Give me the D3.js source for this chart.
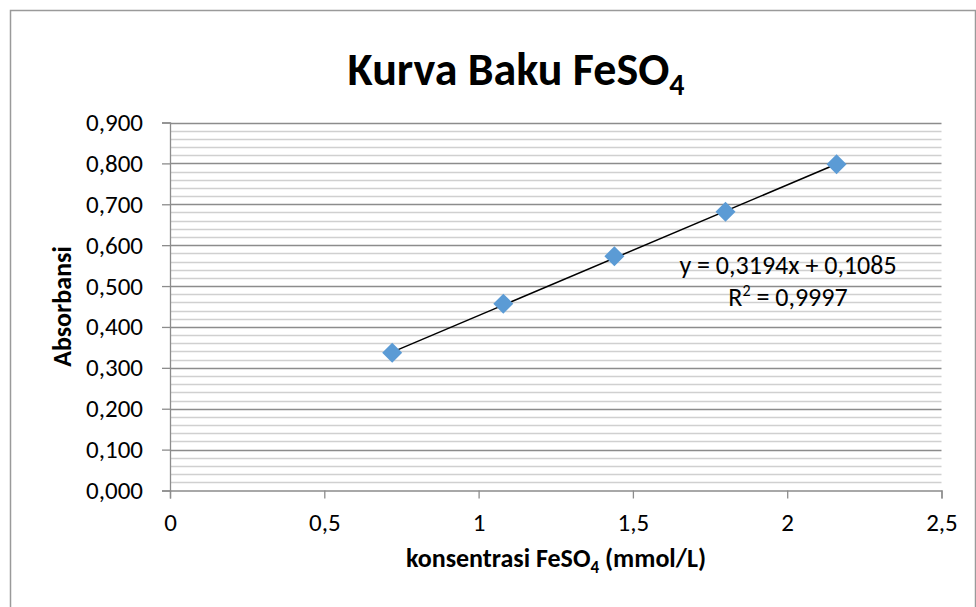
<!DOCTYPE html>
<html>
<head>
<meta charset="utf-8">
<script src="https://cdn.jsdelivr.net/npm/d3@7"></script>
<style>
  html, body { margin: 0; padding: 0; background: #fff; }
  svg { display: block; }
  text { font-family: Carlito, Calibri, Lato, "Open Sans", sans-serif; fill: #000; }
</style>
</head>
<body>
<svg id="chart" width="976" height="607"></svg>
<script>
// ---- data ----
const concentrations = [0.72, 1.08, 1.44, 1.80, 2.16];
const absorbances = [0.337, 0.457, 0.573, 0.682, 0.798];
const slope = 0.3194;
const intercept = 0.1085;
const rSquared = "0,9997";
const xTicks = [0, 0.5, 1, 1.5, 2, 2.5];
const yTicks = [0, 0.1, 0.2, 0.3, 0.4, 0.5, 0.6, 0.7, 0.8, 0.9];
const titleText = "Kurva Baku FeSO";
const xTitleText = "konsentrasi FeSO";
const yTitleText = "Absorbansi";

const svg = d3.select("#chart");

// outer chart border
svg.append("rect").attr("x", 10.5).attr("y", 10.5).attr("width", 965).attr("height", 620)
  .attr("fill", "none").attr("stroke", "#9a9a9a").attr("stroke-width", 1.5);

const x = d3.scaleLinear().domain([0, 2.5]).range([170, 941.5]);
const y = d3.scaleLinear().domain([0, 0.9]).range([490.5, 122.5]);

const fmtComma = (d, dec) => d.toFixed(dec).replace(".", ",");

// minor gridlines every 0.02
const minor = d3.range(0, 0.9001, 0.02).filter(v => Math.abs(Math.round(v * 10) / 10 - v) > 1e-6);
svg.append("g").selectAll("line").data(minor).join("line")
  .attr("x1", x(0)).attr("x2", x(2.5))
  .attr("y1", d => Math.round(y(d)) + 0.5).attr("y2", d => Math.round(y(d)) + 0.5)
  .attr("stroke", "#d0d0d0").attr("stroke-width", 1.3);

// major gridlines
svg.append("g").selectAll("line").data(yTicks.filter(d => d > 0)).join("line")
  .attr("x1", x(0)).attr("x2", x(2.5))
  .attr("y1", d => Math.round(y(d)) + 0.5).attr("y2", d => Math.round(y(d)) + 0.5)
  .attr("stroke", "#8c8c8c").attr("stroke-width", 1.3);

// y axis
const yAxis = d3.axisLeft(y).tickValues(yTicks).tickSize(8).tickPadding(19)
  .tickFormat(d => fmtComma(d, 3));
const gy = svg.append("g").attr("transform", `translate(${x(0)},0)`).call(yAxis);
gy.select(".domain").attr("stroke", "#8c8c8c").attr("stroke-width", 1.3);
gy.selectAll(".tick line").attr("stroke", "#8c8c8c").attr("stroke-width", 1.3);
gy.selectAll(".tick text").attr("font-size", 25).attr("font-family", null).attr("fill", "#000");

// x axis
const xAxis = d3.axisBottom(x).tickValues(xTicks).tickSize(8).tickPadding(15)
  .tickFormat(d => fmtComma(d, d % 1 === 0 ? 0 : 1));
const gx = svg.append("g").attr("transform", `translate(0,${y(0)})`).call(xAxis);
gx.select(".domain").attr("stroke", "#8c8c8c").attr("stroke-width", 1.3);
gx.selectAll(".tick line").attr("stroke", "#8c8c8c").attr("stroke-width", 1.3);
gx.selectAll(".tick text").attr("font-size", 25).attr("font-family", null).attr("fill", "#000");

// trendline
const xMin = d3.min(concentrations), xMax = d3.max(concentrations);
svg.append("line")
  .attr("x1", x(xMin)).attr("y1", y(slope * xMin + intercept))
  .attr("x2", x(xMax)).attr("y2", y(slope * xMax + intercept))
  .attr("stroke", "#000").attr("stroke-width", 1.5);

// points (diamonds)
const pts = concentrations.map((c, i) => ({ c, a: absorbances[i] }));
svg.append("g").selectAll("path").data(pts).join("path")
  .attr("d", d3.symbol().type(d3.symbolSquare).size(200))
  .attr("transform", d => `translate(${x(d.c)},${y(d.a)}) rotate(45)`)
  .attr("fill", "#5b9bd5");

// equation label
const eq = svg.append("text").attr("x", 788).attr("y", 274).attr("text-anchor", "middle").attr("font-size", 26);
eq.text(`y = ${fmtComma(slope, 4)}x + ${fmtComma(intercept, 4)}`);
const r2 = svg.append("text").attr("x", 788).attr("y", 306).attr("text-anchor", "middle").attr("font-size", 26);
r2.append("tspan").text("R");
r2.append("tspan").attr("font-size", 16).attr("dy", -10).text("2");
r2.append("tspan").attr("dy", 10).text(` = ${rSquared}`);

// title
const t = svg.append("text").attr("x", 516).attr("y", 85).attr("text-anchor", "middle")
  .attr("font-size", 46).attr("font-weight", "bold");
t.append("tspan").text(titleText);
t.append("tspan").attr("font-size", 30).attr("dy", 10).text("4");

// x title
const xt = svg.append("text").attr("x", 556).attr("y", 567).attr("text-anchor", "middle")
  .attr("font-size", 26).attr("font-weight", "bold");
xt.append("tspan").text(xTitleText);
xt.append("tspan").attr("font-size", 17).attr("dy", 6).text("4");
xt.append("tspan").attr("dy", -6).text(" (mmol/L)");

// y title
svg.append("text").attr("transform", `translate(71,${(y(0) + y(0.9)) / 2}) rotate(-90)`)
  .attr("text-anchor", "middle").attr("font-size", 26).attr("font-weight", "bold")
  .text(yTitleText);
</script>
</body>
</html>
